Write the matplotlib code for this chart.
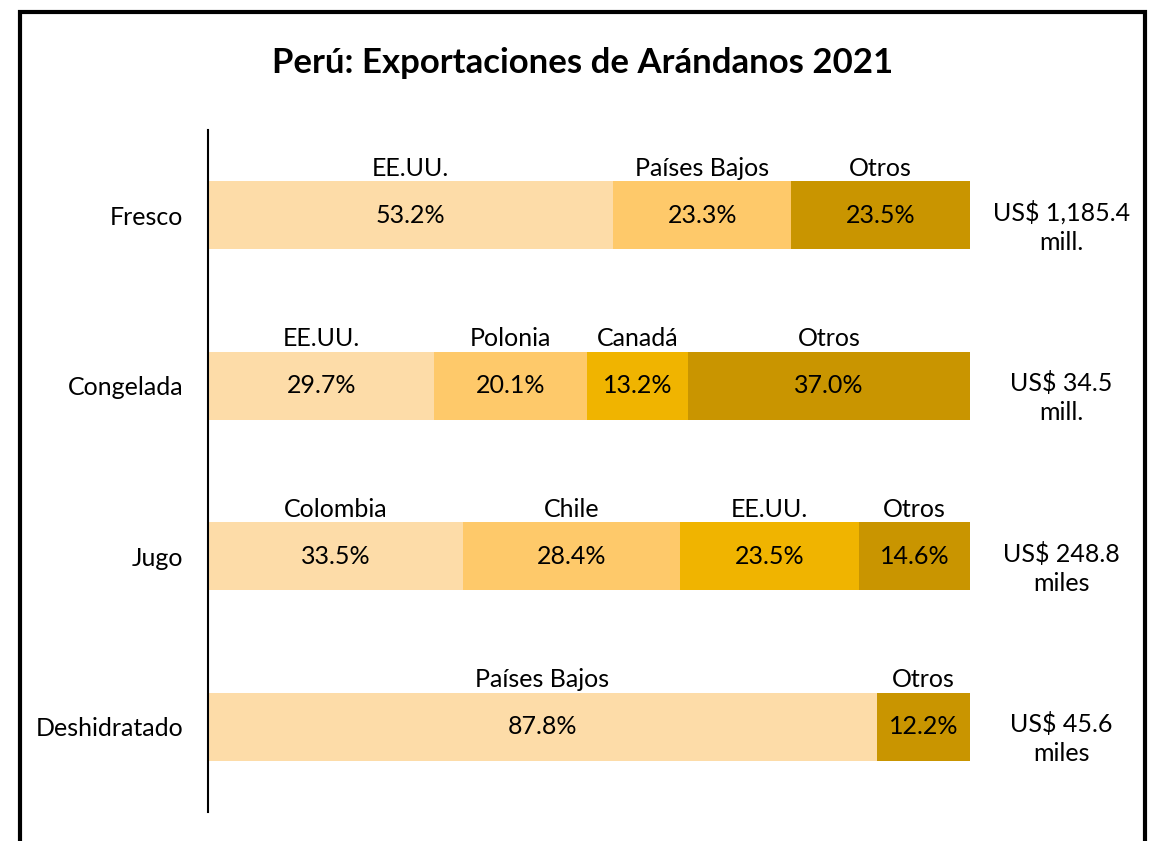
import matplotlib.pyplot as plt
from matplotlib.patches import Rectangle

plt.rcParams['font.family'] = ['Lato', 'DejaVu Sans']

categorias = ['Fresco', 'Congelada', 'Jugo', 'Deshidratado']
paises = [
    ['EE.UU.', 'Países Bajos', 'Otros'],
    ['EE.UU.', 'Polonia', 'Canadá', 'Otros'],
    ['Colombia', 'Chile', 'EE.UU.', 'Otros'],
    ['Países Bajos', 'Otros'],
]
shares = [
    [53.2, 23.3, 23.5],
    [29.7, 20.1, 13.2, 37.0],
    [33.5, 28.4, 23.5, 14.6],
    [87.8, 12.2],
]
totales = ['US$ 1,185.4\nmill.', 'US$ 34.5\nmill.', 'US$ 248.8\nmiles', 'US$ 45.6\nmiles']

colores = ['#FDDCA8', '#FEC96A', '#F0B400']
color_otros = '#C99500'

fig = plt.figure(figsize=(11.55, 8.41), dpi=100)
ax = fig.add_axes([208 / 1155, 1 - 812 / 841, 762 / 1155, 682 / 841])

bar_h = 0.4
for i, (cat, nombres, vals) in enumerate(zip(categorias, paises, shares)):
    left = 0
    for j, (n, v) in enumerate(zip(nombres, vals)):
        c = color_otros if n == 'Otros' else colores[j]
        ax.barh(i, v, left=left, height=bar_h, color=c, edgecolor='none')
        xc = left + v / 2
        ax.text(xc, i, f'{v:.1f}%', ha='center', va='center', fontsize=18)
        ax.annotate(n, (xc, i - bar_h / 2), xytext=(0, 1), textcoords='offset points',
                    ha='center', va='bottom', fontsize=18)
        left += v
    ax.text(112.0, i + 0.07, totales[i], ha='center', va='center', fontsize=18,
            linespacing=1.3, clip_on=False)

ax.set_xlim(0, 100)
ax.set_ylim(3.5, -0.5)
ax.set_yticks(range(len(categorias)))
ax.set_yticklabels(categorias, fontsize=18)
ax.tick_params(axis='y', length=0, pad=18)
ax.set_xticks([])
for s in ['top', 'right', 'bottom']:
    ax.spines[s].set_visible(False)
ax.spines['left'].set_linewidth(1.5)

fig.text(0.504, 1 - 63 / 841, 'Perú: Exportaciones de Arándanos 2021',
         ha='center', va='center', fontsize=25, fontweight='bold')

fig.patches.append(Rectangle((20 / 1155, -0.1), 1125 / 1155, 1 - 12 / 841 + 0.1,
                             transform=fig.transFigure, fill=False,
                             edgecolor='black', linewidth=3))

fig.savefig('out.png', dpi=100)
